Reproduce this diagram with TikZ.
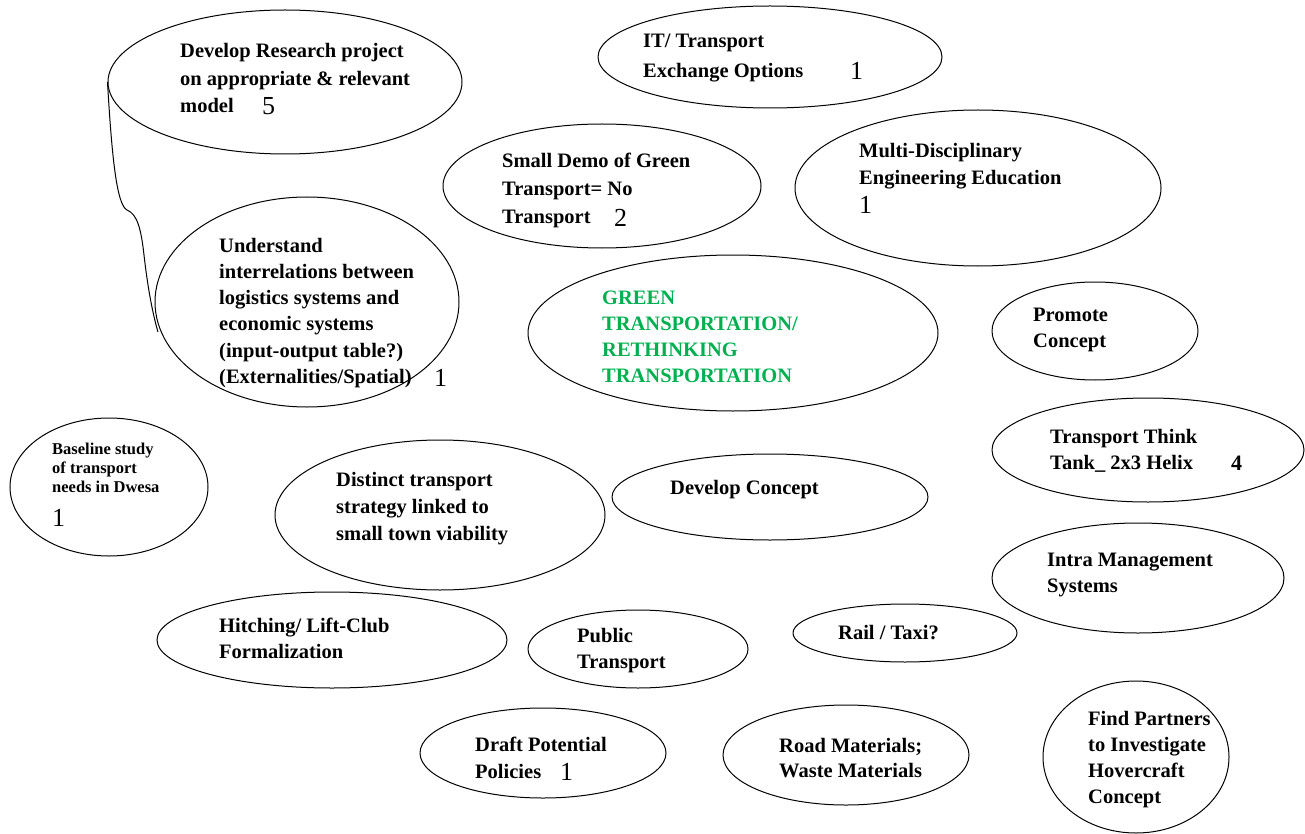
\documentclass[tikz,border=0pt]{standalone}
\usepackage{fontspec}
\setmainfont{Liberation Serif}
\usetikzlibrary{shapes.geometric}
\definecolor{ggreen}{RGB}{0,176,80}
\tikzset{
  bub/.style={draw=black, line width=1pt, ellipse, inner sep=0pt},
  txt/.style={anchor=base west, inner sep=0pt, align=left, font=\bfseries\fontsize{20.5}{26.5}\selectfont},
  num/.style={anchor=base west, inner sep=0pt, font=\fontsize{26}{26}\selectfont},
}
\begin{document}
\begin{tikzpicture}[x=1pt,y=-1pt]
\useasboundingbox (0,0) rectangle (1305,834);
% ellipses
\node[bub, minimum width=354, minimum height=144] (dr) at (285,82) {};
\node[bub, minimum width=344, minimum height=102] (it) at (770,57) {};
\node[bub, minimum width=318, minimum height=124] (sd) at (602,186) {};
\node[bub, minimum width=366, minimum height=156] (md) at (978,188) {};
\node[bub, minimum width=304, minimum height=210] (un) at (307,302) {};
\node[bub, minimum width=410, minimum height=156] (gr) at (733,333) {};
\node[bub, minimum width=206, minimum height=98] (pr) at (1095,331) {};
\node[bub, minimum width=198, minimum height=138] (bs) at (109,487) {};
\node[bub, minimum width=330, minimum height=150] (di) at (440,515) {};
\node[bub, minimum width=316, minimum height=86] (dc) at (770,497) {};
\node[bub, minimum width=312, minimum height=104] (tt) at (1148,450) {};
\node[bub, minimum width=292, minimum height=110] (im) at (1138,578) {};
\node[bub, minimum width=350, minimum height=96] (hi) at (332,640) {};
\node[bub, minimum width=220, minimum height=78] (pu) at (638,649) {};
\node[bub, minimum width=224, minimum height=58] (rt) at (905,633) {};
\node[bub, minimum width=246, minimum height=90] (dp) at (543,753) {};
\node[bub, minimum width=246, minimum height=100] (rm) at (846,755) {};
\node[bub, minimum width=186, minimum height=152] (fp) at (1136,757) {};
% callout tail
\coordinate (tailend) at (158,332);
\draw[line width=1pt] (dr.west) .. controls (112,160) and (117,205) .. (127,210)
  .. controls (137,214) and (141,228) .. (144,255)
  .. controls (148,290) and (153,315) .. (tailend);
% texts (anchor = baseline of last line)
\node[txt, font=\bfseries\fontsize{20.5}{27.5}\selectfont] (tdr) at (180,113) {Develop Research project\\on appropriate \& relevant\\model};
\node[num] (ndr) at (262,115) {5};
\node[txt, font=\bfseries\fontsize{20.5}{30}\selectfont] (tit) at (643,78) {IT/ Transport\\Exchange Options};
\node[num] (nit) at (850,80) {1};
\node[txt, font=\bfseries\fontsize{20.5}{28}\selectfont] (tsd) at (502,224) {Small Demo of Green\\Transport= No\\Transport};
\node[num] (nsd) at (614,226) {2};
\node[txt] (tmd) at (859,184.5) {Multi-Disciplinary\\Engineering Education};
\node[num] (nmd) at (859,214) {1};
\node[txt, font=\bfseries\fontsize{20.5}{26.3}\selectfont] (tun) at (219,383.5) {Understand\\interrelations between\\logistics systems and\\economic systems\\(input-output table?)\\(Externalities/Spatial)};
\node[num] (nun) at (434,386) {1};
\node[txt, text=ggreen, font=\bfseries\fontsize{20.5}{26}\selectfont] (tgr) at (602,382) {GREEN\\TRANSPORTATION/\\RETHINKING\\TRANSPORTATION};
\node[txt, font=\bfseries\fontsize{20.5}{26}\selectfont] (tpr) at (1033,347) {Promote\\Concept};
\node[txt, font=\bfseries\fontsize{16.5}{19}\selectfont] (tbs) at (52,492) {Baseline study\\of transport\\needs in Dwesa};
\node[num] (nbs) at (52,526) {1};
\node[txt, font=\bfseries\fontsize{20.5}{27}\selectfont] (tdi) at (336,540) {Distinct transport\\strategy linked to\\small town viability};
\node[txt] (tdc) at (670,494) {Develop Concept};
\node[txt, font=\bfseries\fontsize{20.5}{26}\selectfont] (ttt) at (1050,469) {Transport Think\\Tank\_ 2x3 Helix};
\node[num, font=\bfseries\fontsize{22}{22}\selectfont] (ntt) at (1231,470) {4};
\node[txt, font=\bfseries\fontsize{20.5}{26}\selectfont] (tim) at (1047,592) {Intra Management\\Systems};
\node[txt, font=\bfseries\fontsize{20.5}{26}\selectfont] (thi) at (219,658) {Hitching/ Lift-Club\\Formalization};
\node[txt, font=\bfseries\fontsize{20.5}{26}\selectfont] (tpu) at (577,668) {Public\\Transport};
\node[txt] (trt) at (838,639) {Rail / Taxi?};
\node[txt, font=\bfseries\fontsize{20.5}{27}\selectfont] (tdp) at (475,778) {Draft Potential\\Policies};
\node[num] (ndp) at (560,780) {1};
\node[txt, font=\bfseries\fontsize{20.5}{25}\selectfont] (trm) at (779,777) {Road Materials;\\Waste Materials};
\node[txt, font=\bfseries\fontsize{20.5}{26}\selectfont] (tfp) at (1088,803) {Find Partners\\to Investigate\\Hovercraft\\Concept};
\end{tikzpicture}
\end{document}
